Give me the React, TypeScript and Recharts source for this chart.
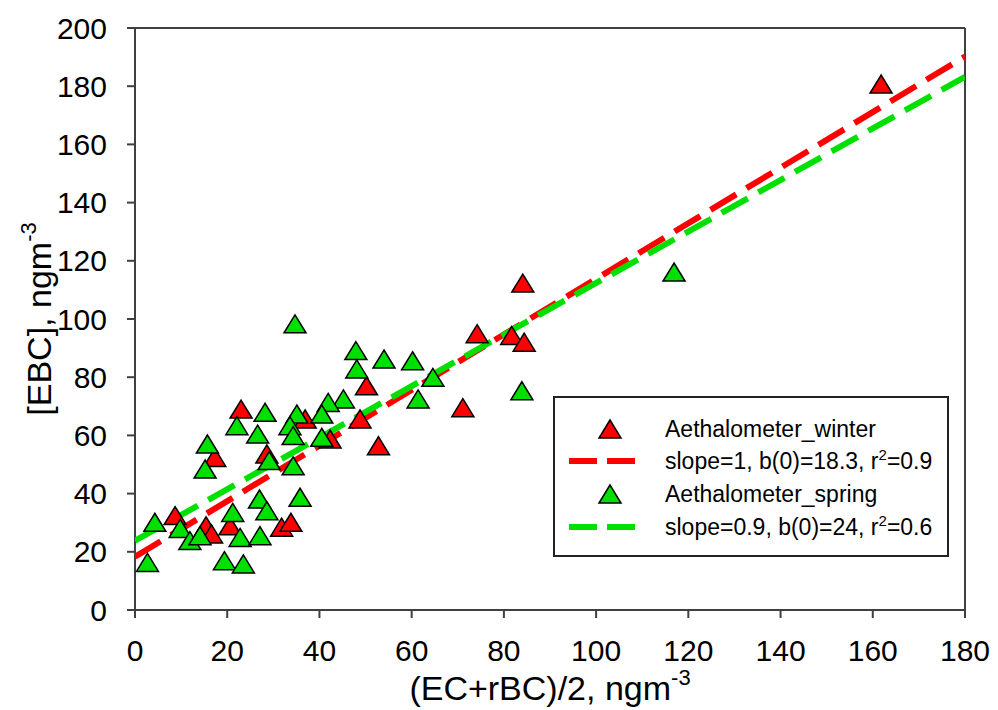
import React from "react";
import {
  ScatterChart,
  Scatter,
  XAxis,
  YAxis,
  ReferenceLine,
  Legend,
  Label,
} from "recharts";

// values
const winterX = [23, 17.3, 28.6, 50.2, 48.8, 52.8, 36.9, 42.3, 8.7, 15.4, 16.6, 20.6, 31.8, 33.8, 74.2, 81.7, 84.4, 71.1, 84.1, 161.8];
const winterY = [68.7, 52.1, 53.3, 76.7, 65.3, 56.1, 65.3, 58.4, 32.1, 28.6, 25.8, 28.6, 28.1, 29.8, 94.6, 94, 91.7, 69.2, 112, 180.4];

const springX = [34.7, 47.9, 48.1, 54, 60.2, 64.6, 61.4, 45.2, 41.9, 40.5, 35.1, 28.2, 22.1, 26.6, 33.6, 34.3, 40.5, 15.7, 15.2, 29.1, 34.3, 35.8, 27, 28.6, 21.2, 4.3, 9.8, 11.9, 14.1, 22.8, 27.1, 2.7, 19.4, 23.5, 83.9, 116.9];
const springY = [98, 88.8, 82.5, 85.9, 85.3, 79.6, 72.2, 72.2, 71, 67, 67, 67.6, 63, 60.1, 63, 59.6, 59, 56.7, 48.1, 51, 49.2, 38.4, 37.8, 33.8, 33.2, 29.8, 27.7, 23.5, 25.2, 24.6, 25.2, 16, 16.6, 15.5, 75, 115.8];

// regression lines, end points
const fitX = [0, 180];
const winterFitY = [18.3, 190.2];
const springFitY = [23.8, 183.2];

const xTicks = [0, 20, 40, 60, 80, 100, 120, 140, 160, 180];
const yTicks = [0, 20, 40, 60, 80, 100, 120, 140, 160, 180, 200];

const FONT = "Arial, 'Liberation Sans', sans-serif";
const RED = "#ff0000";
const GREEN = "#00e000";
const AXIS = "#404040";

const toPoints = (xs: number[], ys: number[]) => xs.map((x, i) => ({ x, y: ys[i] }));

const winterData = toPoints(winterX, winterY);
const springData = toPoints(springX, springY);
const winterFit = toPoints(fitX, winterFitY);
const springFit = toPoints(fitX, springFitY);

const makeTriangle = (fill: string) => (props: any) => {
  const { cx, cy } = props;
  if (cx == null || cy == null) return <g />;
  return (
    <polygon
      points={`${cx},${cy - 10} ${cx - 11},${cy + 8} ${cx + 11},${cy + 8}`}
      fill={fill}
      stroke="#000"
      strokeWidth={1.5}
    />
  );
};

const NoDot = () => <g />;

const XTitle = (props: any) => {
  const { viewBox } = props;
  const cx = viewBox.x + viewBox.width / 2;
  return (
    <text x={cx} y={viewBox.y + 90} textAnchor="middle" fontSize={34} fontFamily={FONT} fill="#000">
      (EC+rBC)/2, ngm
      <tspan dy={-15} fontSize={22}>-3</tspan>
    </text>
  );
};

const YTitle = (props: any) => {
  const { viewBox } = props;
  const x = viewBox.x - 4;
  const cy = viewBox.y + viewBox.height / 2;
  return (
    <text
      x={x}
      y={cy}
      transform={`rotate(-90, ${x}, ${cy})`}
      textAnchor="middle"
      fontSize={34}
      fontFamily={FONT}
      fill="#000"
    >
      [EBC], ngm
      <tspan dy={-15} fontSize={22}>-3</tspan>
    </text>
  );
};

const legendRows = [
  { kind: "marker", color: RED, text: "Aethalometer_winter" },
  { kind: "line", color: RED, text: "slope=1, b(0)=18.3, r", sup: "2", tail: "=0.9" },
  { kind: "marker", color: GREEN, text: "Aethalometer_spring" },
  { kind: "line", color: GREEN, text: "slope=0.9, b(0)=24, r", sup: "2", tail: "=0.6" },
];
const rowTops = [31, 63, 96, 129];

const LegendBox = () => (
  <div
    style={{
      position: "relative",
      width: 396,
      height: 161,
      border: "2px solid #222",
      boxSizing: "border-box",
      background: "#fff",
      fontFamily: FONT,
      fontSize: 23,
      color: "#000",
    }}
  >
    {legendRows.map((r, i) => (
      <div key={i} style={{ position: "absolute", left: 0, top: rowTops[i] - 15, height: 30, width: "100%" }}>
        <svg width={90} height={30} style={{ position: "absolute", left: 10, top: 0 }}>
          {r.kind === "marker" ? (
            <polygon points="45,6 34,24 56,24" fill={r.color} stroke="#000" strokeWidth={1.5} />
          ) : (
            <line x1={4} y1={15} x2={70} y2={15} stroke={r.color} strokeWidth={6} strokeDasharray="28 10" />
          )}
        </svg>
        <span style={{ position: "absolute", left: 110, top: 0, lineHeight: "30px", whiteSpace: "nowrap" }}>
          {r.text}
          {r.sup && <sup style={{ fontSize: 15, verticalAlign: "9px", lineHeight: 0 }}>{r.sup}</sup>}
          {r.tail}
        </span>
      </div>
    ))}
  </div>
);

export default function App() {
  return (
    <div style={{ width: 990, height: 702, background: "#fff" }}>
      <ScatterChart width={990} height={702} margin={{ top: 20, right: 33, bottom: 40, left: 47 }}>
        <XAxis
          type="number"
          dataKey="x"
          domain={[0, 180]}
          ticks={xTicks}
          interval={0}
          height={60}
          stroke={AXIS}
          strokeWidth={2}
          tickSize={8}
          tickMargin={22}
          tick={{ fontSize: 30, fill: "#000", fontFamily: FONT }}
          allowDataOverflow
        >
          <Label content={<XTitle />} />
        </XAxis>
        <YAxis
          type="number"
          dataKey="y"
          domain={[0, 200]}
          ticks={yTicks}
          interval={0}
          width={80}
          stroke={AXIS}
          strokeWidth={2}
          tickSize={8}
          tickMargin={20}
          tick={{ fontSize: 30, fill: "#000", fontFamily: FONT }}
          allowDataOverflow
        >
          <Label content={<YTitle />} />
        </YAxis>
        <ReferenceLine y={200} stroke={AXIS} strokeWidth={2} />
        <ReferenceLine x={180} stroke={AXIS} strokeWidth={2} />
        <Scatter
          name="winter fit"
          data={winterFit}
          line={{ stroke: RED, strokeWidth: 6, strokeDasharray: "30 12" }}
          shape={NoDot}
          isAnimationActive={false}
        />
        <Scatter
          name="spring fit"
          data={springFit}
          line={{ stroke: GREEN, strokeWidth: 6, strokeDasharray: "30 12" }}
          shape={NoDot}
          isAnimationActive={false}
        />
        <Scatter name="Aethalometer_winter" data={winterData} shape={makeTriangle(RED)} isAnimationActive={false} />
        <Scatter name="Aethalometer_spring" data={springData} shape={makeTriangle(GREEN)} isAnimationActive={false} />
        <Legend
          layout="horizontal"
          verticalAlign="middle"
          align="center"
          content={<LegendBox />}
          wrapperStyle={{ position: "absolute", left: 545, top: 388, width: 396, height: 161 }}
        />
      </ScatterChart>
    </div>
  );
}
